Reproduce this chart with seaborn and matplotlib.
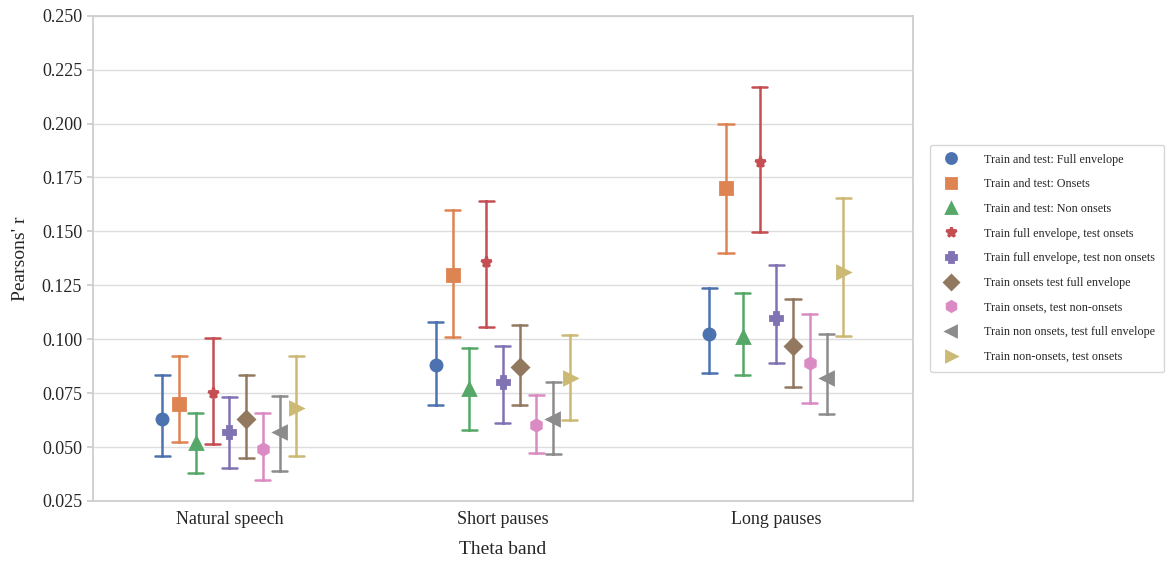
import pandas as pd
import matplotlib
matplotlib.use("Agg")
import matplotlib.pyplot as plt
import seaborn as sns

# categories and conditions
conditions = ['Natural speech', 'Short pauses', 'Long pauses']
models = ['Train and test: Full envelope', 'Train and test: Onsets', 'Train and test: Non onsets',
          'Train full envelope, test onsets', 'Train full envelope, test non onsets',
          'Train onsets test full envelope', 'Train onsets, test non-onsets',
          'Train non onsets, test full envelope', 'Train non-onsets, test onsets']
markers = ['o', 's', '^', '*', 'P', 'D', 'h', '<', '>']

# mean r per model, one list per condition (same order as models)
r_natural = [0.063, 0.070, 0.052, 0.075, 0.057, 0.063, 0.049, 0.057, 0.068]
r_short = [0.088, 0.130, 0.077, 0.136, 0.080, 0.087, 0.060, 0.063, 0.082]
r_long = [0.1025, 0.170, 0.101, 0.182, 0.110, 0.097, 0.089, 0.082, 0.131]

# lower / upper ends of the error bars
lo_natural = [0.046, 0.0524, 0.038, 0.0514, 0.0403, 0.045, 0.0347, 0.0389, 0.0459]
hi_natural = [0.0835, 0.0923, 0.0658, 0.1006, 0.0733, 0.0835, 0.0658, 0.0737, 0.0923]
lo_short = [0.0697, 0.1012, 0.058, 0.1057, 0.0613, 0.0695, 0.0474, 0.047, 0.0626]
hi_short = [0.108, 0.160, 0.096, 0.1639, 0.097, 0.1067, 0.0743, 0.0801, 0.102]
lo_long = [0.0843, 0.1402, 0.0836, 0.1497, 0.0889, 0.078, 0.0706, 0.0652, 0.1017]
hi_long = [0.1238, 0.1999, 0.1212, 0.2170, 0.1345, 0.1186, 0.1116, 0.1025, 0.1655]

# long-form table: three rows (low, mean, high) per point
rows = []
for cond, r, lo, hi in zip(conditions, [r_natural, r_short, r_long],
                           [lo_natural, lo_short, lo_long], [hi_natural, hi_short, hi_long]):
    for m, a, b, c in zip(models, lo, r, hi):
        for v in (a, b, c):
            rows.append({'condition': cond, 'model': m, 'r': v})
df = pd.DataFrame(rows)

sns.set_theme(style="whitegrid")
plt.rcParams['font.family'] = ['Liberation Serif', 'DejaVu Serif']
plt.rcParams['axes.edgecolor'] = '#cccccc'

fig = plt.figure(figsize=(11.72, 5.61), dpi=100)
ax = fig.add_axes([0.079, 0.107, 0.700, 0.865])

# median of (low, mean, high) = mean, min/max = error bar ends
sns.pointplot(data=df, x='condition', y='r', hue='model', order=conditions, hue_order=models,
              estimator='median', errorbar=lambda x: (x.min(), x.max()),
              markers=markers, linestyles='none', dodge=0.49, capsize=0.055,
              palette='deep', markersize=8, err_kws={'linewidth': 1.8}, ax=ax)

ax.set_ylim(0.025, 0.25)
ax.set_yticks([0.025 * i for i in range(1, 11)])
ax.set_yticklabels([f'{0.025 * i:.3f}' for i in range(1, 11)])
ax.grid(axis='x', visible=False)
ax.grid(axis='y', color='#dddddd', linewidth=1)
ax.tick_params(axis='both', labelsize=13, length=4, color='#cccccc', left=True, bottom=False)
ax.set_xlabel('Theta band', fontsize=14, labelpad=9)
ax.set_ylabel("Pearsons' r", fontsize=14, labelpad=9)

leg = ax.legend(loc='center left', bbox_to_anchor=(1.021, 0.5), fontsize=8.7, labelspacing=1.05,
                handletextpad=1.7, borderpad=0.75, borderaxespad=0, markerscale=0.9, frameon=True)
leg.get_frame().set_edgecolor('#cccccc')

plt.savefig('out.png', dpi=100)
